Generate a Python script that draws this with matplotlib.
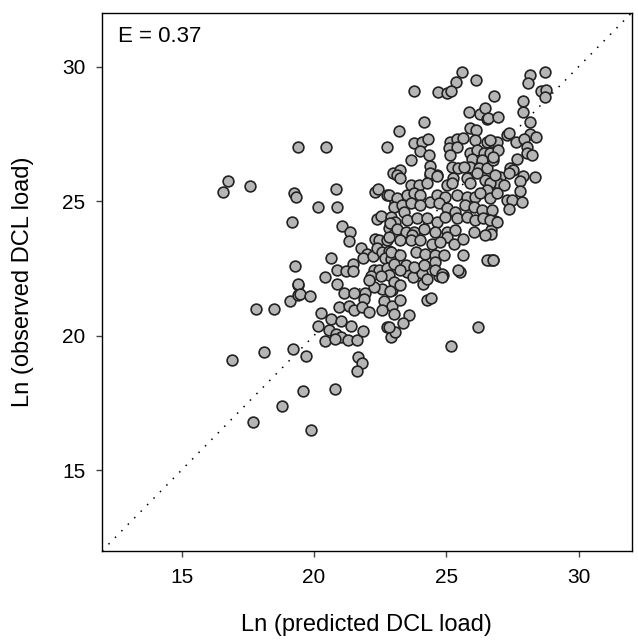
import numpy as np
import matplotlib.pyplot as plt

plt.rcParams['font.family'] = ['Liberation Sans', 'DejaVu Sans']

# predicted (x) / observed (y) log loads
pred = [
    16.58, 16.76, 17.6, 17.8, 18.5, 19.1, 19.4, 19.4, 16.9, 18.1, 19.2, 17.7, 18.8, 19.9,
    19.26, 19.33, 19.17, 19.3, 19.41, 20.45, 22.77, 23.2, 23.0,
    20.85, 20.14, 20.87, 21.07, 21.37, 21.33, 20.64, 21.79, 22.02, 21.87, 22.24, 21.47,
    20.89, 21.2, 21.47, 20.41, 22.3, 22.42, 22.75, 23.07, 22.37, 22.55, 22.83, 23.02,
    22.32, 22.46, 22.75, 23.02, 22.39, 22.58, 22.83, 22.67, 22.9, 22.27, 22.46, 22.77,
    22.83, 22.17, 22.52,
    19.41, 19.49, 19.86, 20.89, 21.12, 21.52, 21.92, 21.89, 20.95, 21.33, 21.52, 21.83,
    22.08, 20.26, 20.64, 21.04, 21.39, 20.17, 20.58, 20.83, 21.04, 20.41, 20.79, 21.27,
    21.62, 21.87, 22.75, 22.92, 19.69, 21.67, 21.83, 21.62, 19.57, 20.79, 22.58, 22.96,
    22.65, 22.96, 22.58, 23.02, 22.27, 22.08, 23.02,
    22.87, 23.27, 23.27, 23.59, 23.37, 23.08, 23.52, 23.75, 24.09, 24.12, 24.27, 24.42,
    24.71, 24.88, 25.53, 26.18, 25.18, 22.83,
    25.59, 25.38, 26.13, 23.77, 24.68, 25.03, 25.18, 26.8, 25.85, 26.26, 26.47, 26.53,
    24.17, 25.9, 26.13, 23.77, 24.09, 24.3, 24.0, 23.65, 24.34, 24.4, 24.65, 25.15,
    25.4, 25.63, 25.09, 25.4, 25.15, 26.09, 26.53, 26.78, 25.88, 26.15, 26.41, 26.65,
    25.97, 26.34, 25.9, 26.22, 26.53, 26.78, 25.21, 25.43, 25.68, 23.27, 24.37, 25.25,
    28.72, 28.18, 28.1, 28.56, 28.76, 28.72, 27.91, 26.59, 26.97, 27.91, 28.18, 27.28,
    27.38, 28.16, 28.38, 27.63, 27.93, 28.03, 28.03, 28.22, 27.68, 26.91, 26.97, 26.78,
    26.65, 27.41, 27.51, 27.89, 28.35, 27.03,
    27.78, 27.35, 26.97, 27.18, 26.59, 27.78, 27.31, 27.47, 27.85, 27.35, 26.72, 26.85,
    26.68, 26.68, 26.65, 26.78,
    23.15, 23.27, 24.4, 24.65, 25.03, 25.22, 25.78, 25.9, 26.47, 26.66, 26.84, 26.15,
    26.53, 23.65, 23.96, 24.27, 22.83, 23.15, 23.52, 23.77, 24.02, 24.37, 24.65, 24.96,
    25.4, 25.78, 26.09, 26.28, 26.66, 26.9, 23.02, 23.33, 23.65, 24.02, 24.71, 25.03,
    25.34, 25.71, 26.03, 26.34, 26.72, 23.4, 22.9, 23.08, 23.52, 23.9, 24.27, 24.65,
    24.96, 25.4, 25.78, 26.09, 26.4, 26.66, 26.9, 22.87, 23.15, 23.46, 23.77, 24.15,
    24.59, 25.03, 25.34, 26.03, 26.47, 25.03, 23.71, 22.83, 23.27, 23.65, 24.02, 24.46,
    24.78, 25.28, 25.65, 22.9, 23.27, 23.84, 24.21, 24.59, 24.9, 25.65, 26.53, 26.75,
    23.02, 23.46, 23.77, 24.15, 24.59, 24.59, 24.84, 25.46, 23.27, 24.27, 24.84,
]
obs = [
    25.35, 25.76, 25.57, 21.0, 21.0, 21.3, 21.5, 21.9, 19.1, 19.4, 19.5, 16.8, 17.4, 16.5,
    25.29, 25.16, 24.24, 22.6, 27.03, 27.03, 27.03, 27.62, 26.03,
    25.44, 24.79, 24.79, 24.08, 23.85, 23.52, 22.9, 23.27, 23.05, 22.9, 22.95, 22.65,
    22.45, 22.4, 22.4, 22.18, 25.35, 25.44, 25.24, 24.97, 24.32, 24.44, 24.02, 24.17,
    23.61, 23.57, 23.57, 23.79, 23.24, 23.11, 23.15, 22.9, 22.86, 22.43, 22.45, 22.53,
    22.24, 22.2, 22.2,
    21.93, 21.53, 21.46, 21.93, 21.58, 21.58, 21.58, 21.37, 21.08, 21.12, 20.96, 21.06,
    20.87, 20.83, 20.62, 20.56, 20.34, 20.34, 20.21, 20.06, 19.96, 19.79, 19.88, 19.84,
    19.84, 20.19, 20.31, 19.94, 19.24, 19.22, 18.99, 18.67, 17.95, 18.0, 21.74, 21.68,
    21.28, 21.12, 20.96, 20.81, 21.8, 22.05, 21.99,
    21.65, 21.87, 21.31, 20.75, 20.46, 20.12, 22.36, 22.18, 22.32, 21.93, 21.33, 21.41,
    22.2, 22.24, 22.36, 20.31, 19.62, 20.31,
    29.79, 29.43, 29.49, 29.1, 29.07, 29.02, 29.08, 28.92, 28.32, 28.25, 28.46, 28.05,
    27.96, 27.71, 27.65, 27.15, 27.18, 27.3, 26.88, 26.53, 26.72, 26.31, 25.97, 27.21,
    27.3, 27.34, 26.97, 27.0, 26.72, 27.28, 27.21, 27.21, 26.8, 26.9, 26.78, 26.78,
    26.56, 26.53, 26.28, 26.22, 26.22, 26.53, 26.28, 26.22, 26.28, 26.16, 25.97, 25.85,
    29.79, 29.68, 29.39, 29.08, 29.14, 28.87, 28.74, 28.09, 28.12, 28.31, 27.96, 27.46,
    27.53, 27.5, 27.38, 27.21, 27.3, 27.0, 26.8, 26.72, 26.57, 27.21, 26.9, 26.65,
    27.28, 26.22, 26.16, 25.93, 25.88, 25.88,
    25.76, 26.03, 25.68, 25.6, 25.31, 25.38, 25.06, 25.04, 24.95, 24.69, 24.29, 24.26,
    23.94, 23.77, 22.82, 22.82,
    25.97, 25.85, 26.04, 25.94, 25.6, 25.66, 25.85, 25.66, 25.79, 25.66, 25.97, 26.04,
    25.41, 25.6, 25.6, 25.66, 25.23, 25.1, 25.23, 25.29, 25.23, 24.98, 25.23, 25.16,
    25.23, 25.16, 25.16, 25.29, 25.1, 25.29, 24.79, 24.85, 24.92, 24.85, 24.92, 24.73,
    24.6, 24.85, 24.79, 24.67, 24.67, 24.6, 24.42, 24.23, 24.29, 24.36, 24.36, 24.23,
    24.42, 24.36, 24.42, 24.29, 24.36, 24.29, 24.23, 24.17, 23.98, 23.86, 23.86, 23.98,
    23.86, 23.86, 23.92, 23.86, 23.73, 23.67, 23.73, 23.67, 23.55, 23.55, 23.55, 23.42,
    23.48, 23.42, 23.61, 23.11, 22.99, 23.11, 23.05, 22.99, 22.99, 22.99, 22.83, 22.83,
    22.68, 22.61, 22.55, 22.61, 22.74, 22.43, 22.3, 22.43, 22.43, 22.12, 22.18,
]

xticks = [15, 20, 25, 30]
yticks = [15, 20, 25, 30]
lims = (12, 32)

fig = plt.figure(figsize=(6.38, 6.42), dpi=100)
ax = fig.add_axes([0.16, 0.142, 0.83, 0.838])

# 1:1 line, sparse dots like the original
ax.plot(lims, lims, color='black', lw=1.1, dashes=(1, 5), zorder=1)

ax.scatter(pred, obs, s=60, facecolor='#b5b5b5', edgecolor='#222222',
           linewidths=1.2, zorder=2)

ax.set_xlim(*lims)
ax.set_ylim(*lims)
ax.set_xticks(xticks)
ax.set_yticks(yticks)
ax.tick_params(direction='out', length=4, width=1, color='#444444',
               labelsize=15, pad=8)
for sp in ax.spines.values():
    sp.set_linewidth(1)

ax.text(0.03, 0.975, 'E = 0.37', transform=ax.transAxes, ha='left', va='top',
        fontsize=16)
ax.set_xlabel('Ln (predicted DCL load)', fontsize=17, labelpad=20)
ax.set_ylabel('Ln (observed DCL load)', fontsize=17, labelpad=20)

fig.savefig('out.png', dpi=100)
